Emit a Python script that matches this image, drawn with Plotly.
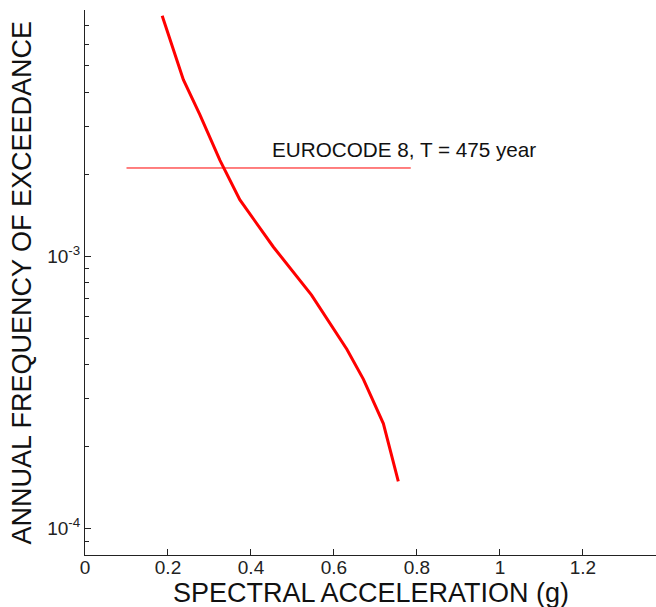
import numpy as np
import plotly.graph_objects as go

# Hazard curve (spectral acceleration in g vs annual frequency of exceedance)
sa_g = [0.186, 0.209, 0.237, 0.277, 0.325, 0.373, 0.454, 0.546, 0.631, 0.671, 0.719, 0.755]
annual_freq = [7.62e-3, 5.97e-3, 4.44e-3, 3.30e-3, 2.25e-3, 1.61e-3, 1.08e-3,
               7.19e-4, 4.55e-4, 3.53e-4, 2.43e-4, 1.49e-4]

# Eurocode 8 reference level
return_period = 475
ec8_x = [0.1, 0.785]
ec8_label = "EUROCODE 8, T = 475 year"

# Axis ticks
x_tickvals = [0, 0.2, 0.4, 0.6, 0.8, 1.0, 1.2]
x_ticktext = ["0", "0.2", "0.4", "0.6", "0.8", "1", "1.2"]
y_tickvals = [1e-4, 1e-3]
y_ticktext = ["10<sup>-4</sup>", "10<sup>-3</sup>"]
y_minor = [8e-5, 9e-5] + [k * 1e-4 for k in range(2, 10)] + [k * 1e-3 for k in range(2, 9)]

x_title = "SPECTRAL ACCELERATION (g)"
y_title = "ANNUAL FREQUENCY OF EXCEEDANCE"

FONT = "Liberation Sans, Arial, Helvetica, sans-serif"
AX = "#222222"

fig = go.Figure()
fig.add_trace(go.Scatter(x=ec8_x, y=[1.0 / return_period] * 2, mode="lines",
                         line=dict(color="#ff0000", width=1), showlegend=False))
fig.add_trace(go.Scatter(x=sa_g, y=annual_freq, mode="lines",
                         line=dict(color="#ff0000", width=3), showlegend=False))

fig.add_annotation(x=0.446, y=np.log10(1.0 / return_period), xref="x", yref="y",
                   text=ec8_label, showarrow=False, xanchor="left", yanchor="bottom",
                   yshift=5, font=dict(family=FONT, size=20.7, color="#111111"))

fig.add_annotation(x=0.5, y=0, xref="paper", yref="paper", text=x_title,
                   showarrow=False, xanchor="center", yanchor="top", yshift=-21,
                   font=dict(family=FONT, size=27, color="#111111"))
fig.add_annotation(x=0, y=0.5, xref="paper", yref="paper", text=y_title,
                   showarrow=False, xanchor="center", yanchor="middle", xshift=-64,
                   textangle=-90, font=dict(family=FONT, size=27, color="#111111"))

fig.update_xaxes(range=[0, 1.376], tickvals=x_tickvals, ticktext=x_ticktext,
                 ticks="inside", ticklen=6, tickcolor=AX, showline=True, linecolor=AX,
                 linewidth=1, showgrid=False, zeroline=False, automargin=False,
                 ticklabelstandoff=-5,
                 tickfont=dict(family=FONT, size=19, color=AX))
fig.update_yaxes(type="log", range=[np.log10(8e-5), np.log10(8e-3)],
                 tickvals=y_tickvals, ticktext=y_ticktext,
                 ticks="inside", ticklen=6, tickcolor=AX, showline=True, linecolor=AX,
                 linewidth=1, showgrid=False, zeroline=False, automargin=False,
                 minor=dict(tickvals=y_minor, ticks="inside", ticklen=4, tickcolor=AX, showgrid=False),
                 tickfont=dict(family=FONT, size=19, color=AX))

fig.update_layout(width=656, height=607, margin=dict(l=85, r=0, t=10, b=52),
                  plot_bgcolor="white", paper_bgcolor="white", showlegend=False)

fig.write_html("out.html", config={"displayModeBar": False},
               post_script="document.body.style.margin='0';document.body.style.overflow='hidden';")
